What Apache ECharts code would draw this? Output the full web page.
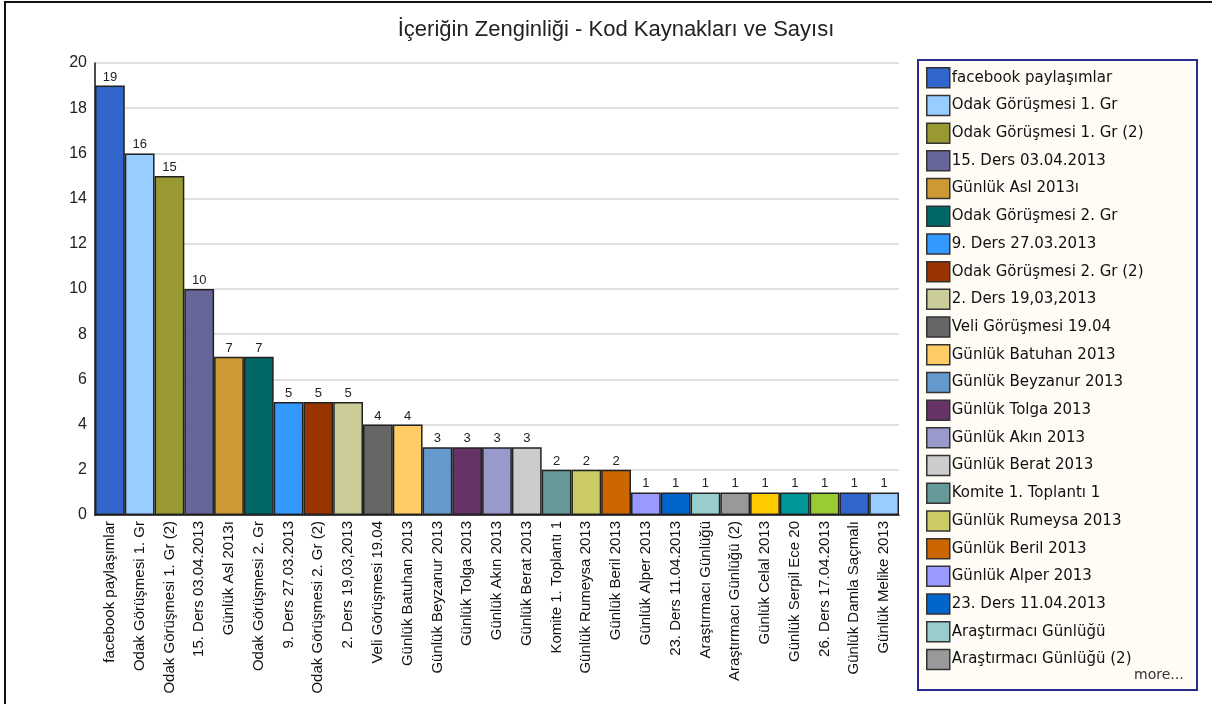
<!DOCTYPE html>
<html>
<head>
<meta charset="utf-8">
<title>İçeriğin Zenginliği</title>
<script src="https://cdn.jsdelivr.net/npm/echarts@6/dist/echarts.min.js"></script>
<style>
  html, body { margin: 0; padding: 0; background: #fff; }
  #chart { width: 1212px; height: 704px; }
</style>
</head>
<body>
<div id="chart"></div>
<script>
// kod kaynaklari (x ekseni) ve sayilari
const categories = [
  'facebook paylaşımlar', 'Odak Görüşmesi 1. Gr', 'Odak Görüşmesi 1. Gr (2)',
  '15. Ders 03.04.2013', 'Günlük Asl 2013ı', 'Odak Görüşmesi 2. Gr',
  '9. Ders 27.03.2013', 'Odak Görüşmesi 2. Gr (2)', '2. Ders 19,03,2013',
  'Veli Görüşmesi 19.04', 'Günlük Batuhan 2013', 'Günlük Beyzanur 2013',
  'Günlük Tolga 2013', 'Günlük Akın 2013', 'Günlük Berat 2013',
  'Komite 1. Toplantı 1', 'Günlük Rumeysa 2013', 'Günlük Beril 2013',
  'Günlük Alper 2013', '23. Ders 11.04.2013', 'Araştırmacı Günlüğü',
  'Araştırmacı Günlüğü (2)', 'Günlük Celal 2013', 'Günlük Serpil Ece 20',
  '26. Ders 17.04.2013', 'Günlük Damla Saçmalı', 'Günlük Melike 2013'
]
const counts = [19, 16, 15, 10, 7, 7, 5, 5, 5, 4, 4, 3, 3, 3, 3, 2, 2, 2, 1, 1, 1, 1, 1, 1, 1, 1, 1]
const barColors = [
  '#3366CC', '#99CCFF', '#999933', '#666699', '#CC9933', '#006666',
  '#3399FF', '#993300', '#CCCC99', '#666666', '#FFCC66', '#6699CC',
  '#663366', '#9999CC', '#CCCCCC', '#669999', '#CCCC66', '#CC6600',
  '#9999FF', '#0066CC', '#99CCCC', '#999999', '#FFCC00', '#009999',
  '#99CC33', '#3366CC', '#99CCFF'
]
const yTicks = [0, 2, 4, 6, 8, 10, 12, 14, 16, 18, 20]
const legendShown = 22 // kutuda gorunen kalem sayisi, gerisi "more..."

const chart = echarts.init(document.getElementById('chart'))

// her kaynak ayri seri, ayni stack -> tek sutun, lejantta ayri renk
const series = categories.map((name, i) => ({
  name: name,
  type: 'bar',
  stack: 'total',
  barCategoryGap: '0%',
  data: counts.map((v, j) => (j === i ? v : '-')),
  itemStyle: {
    color: barColors[i],
    borderColor: '#222',
    borderWidth: 1.5
  },
  label: {
    show: true,
    position: 'top',
    distance: 2,
    color: '#222',
    fontSize: 13,
    fontFamily: 'Liberation Sans, Arial, sans-serif'
  },
  emphasis: { disabled: true }
}))

chart.setOption({
  animation: false,
  backgroundColor: '#fff',
  title: {
    text: 'İçeriğin Zenginliği - Kod Kaynakları ve Sayısı',
    left: 611,
    textAlign: 'center',
    top: 14,
    textStyle: {
      fontSize: 22,
      fontWeight: 'normal',
      color: '#222',
      fontFamily: 'Liberation Sans, Arial, sans-serif'
    }
  },
  graphic: [
    {
      type: 'rect',
      z: -10,
      shape: { x: 5, y: 2, width: 1400, height: 900 },
      style: { fill: 'none', stroke: '#111', lineWidth: 2 }
    },
    {
      type: 'rect',
      z: -5,
      shape: { x: 918, y: 60, width: 279, height: 630 },
      style: { fill: '#FFFCF5', stroke: '#2B2B8F', lineWidth: 2 }
    },
    {
      type: 'text',
      left: 1134,
      top: 668,
      style: {
        text: 'more...',
        fill: '#333',
        fontSize: 14,
        fontFamily: 'DejaVu Sans, Verdana, sans-serif'
      }
    }
  ],
  legend: {
    orient: 'vertical',
    left: 926,
    top: 67,
    padding: 0,
    itemWidth: 23,
    itemHeight: 20,
    itemGap: 6.2,
    icon: 'rect',
    selectedMode: false,
    data: categories.slice(0, legendShown),
    itemStyle: { borderColor: '#333', borderWidth: 1.5 },
    textStyle: {
      fontSize: 15,
      color: '#111',
      fontFamily: 'DejaVu Sans, Verdana, sans-serif',
      padding: [0, 0, 0, -3]
    }
  },
  grid: {
    left: 95,
    right: 313,
    top: 63,
    bottom: 189,
    containLabel: false
  },
  xAxis: {
    type: 'category',
    data: categories,
    axisLine: { show: true, lineStyle: { color: '#111', width: 1.5 } },
    axisTick: { show: false },
    axisLabel: {
      interval: 0,
      rotate: 90,
      margin: 6,
      fontSize: 15,
      color: '#111',
      fontFamily: 'Liberation Sans, Arial, sans-serif'
    }
  },
  yAxis: {
    type: 'value',
    min: yTicks[0],
    max: yTicks[yTicks.length - 1],
    interval: 2,
    axisLine: { show: true, lineStyle: { color: '#111', width: 1.5 } },
    axisTick: { show: false },
    splitLine: { lineStyle: { color: '#d6d6d6', width: 1.5 } },
    axisLabel: {
      margin: 8,
      fontSize: 16,
      color: '#222',
      fontFamily: 'Liberation Sans, Arial, sans-serif'
    }
  },
  series: series
})
</script>
</body>
</html>
